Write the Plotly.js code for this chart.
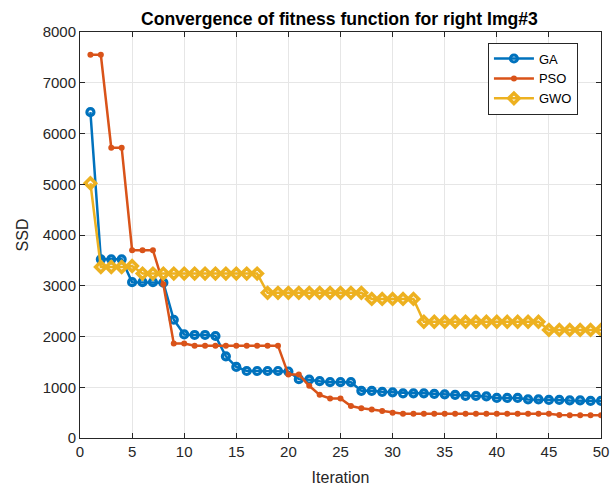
<!DOCTYPE html>
<html><head><meta charset="utf-8">
<script src="https://cdn.plot.ly/plotly-3.0.1.min.js"></script>
<style>html,body{margin:0;padding:0;background:#fff}#chart{width:615px;height:487px}</style>
</head><body><div id="chart"></div>
<script>
const iterations = Array.from({length: 50}, (_, i) => i + 1);
const gaValues = [6420,3520,3520,3520,3070,3070,3070,3060,2330,2040,2030,2030,2010,1610,1400,1320,1320,1320,1320,1310,
  1160,1150,1120,1100,1100,1100,930,930,910,900,880,880,880,870,860,850,830,830,820,790,790,790,760,760,750,750,740,740,730,730];
const psoValues = [7550,7550,5720,5720,3700,3700,3700,3030,1860,1860,1820,1820,1820,1820,1820,1820,1820,1820,1820,1250,
  1250,1030,850,780,780,630,585,560,530,500,480,480,480,480,480,480,480,480,480,480,480,480,480,480,480,455,450,450,450,450];
const gwoValues = [5020,3370,3370,3370,3390,3240,3240,3240,3240,3240,3240,3240,3240,3240,3240,3240,3240,2860,2860,2860,
  2860,2860,2860,2860,2860,2860,2860,2740,2740,2740,2740,2740,2290,2290,2290,2290,2290,2290,2290,2290,2290,2290,2290,2290,
  2130,2130,2130,2130,2130,2130];
const seriesNames = ['GA','PSO','GWO'];
const xTicks = [0,5,10,15,20,25,30,35,40,45,50];
const yTicks = [0,1000,2000,3000,4000,5000,6000,7000,8000];

const font = 'Liberation Sans, Arial, sans-serif';
const traces = [
  {x: iterations, y: gaValues, name: seriesNames[0], mode: 'lines+markers',
   line: {color: '#0072BD', width: 2.5},
   marker: {symbol: 'circle-open', size: 7, color: '#0072BD', line: {width: 3.2, color: '#0072BD'}}},
  {x: iterations, y: psoValues, name: seriesNames[1], mode: 'lines+markers',
   line: {color: '#D95319', width: 2.5},
   marker: {symbol: 'circle', size: 6, color: '#D95319'}},
  {x: iterations, y: gwoValues, name: seriesNames[2], mode: 'lines+markers',
   line: {color: '#EDB120', width: 2.5},
   marker: {symbol: 'diamond-open', size: 8, color: '#EDB120', line: {width: 3.5, color: '#EDB120'}}}
];
const axisCommon = {
  showline: true, mirror: 'ticks', linecolor: '#262626', linewidth: 1,
  ticks: 'inside', ticklen: 5, tickcolor: '#262626',
  showgrid: true, gridcolor: '#e6e6e6', gridwidth: 1, zeroline: false,
  tickfont: {family: font, size: 15, color: '#262626'}
};
const layout = {
  width: 615, height: 487,
  margin: {l: 80, r: 14, t: 32, b: 49},
  paper_bgcolor: '#fff', plot_bgcolor: '#fff',
  title: {text: '<b>Convergence of fitness function for right Img#3</b>', font: {family: font, size: 17.6, color: '#000'},
          x: 0.552, xanchor: 'center', y: 0.962, yanchor: 'middle'},
  xaxis: Object.assign({}, axisCommon, {range: [0, 50], tickvals: xTicks,
          title: {text: 'Iteration', font: {family: font, size: 16, color: '#262626'}, standoff: 12}}),
  yaxis: Object.assign({}, axisCommon, {range: [0, 8000], tickvals: yTicks,
          title: {text: 'SSD', font: {family: font, size: 16, color: '#262626'}, standoff: 10}}),
  legend: {x: 0.783, y: 0.974, xanchor: 'left', yanchor: 'top', bgcolor: '#fff', bordercolor: '#262626', borderwidth: 1,
           font: {family: font, size: 13, color: '#000'}, itemwidth: 40, tracegroupgap: 0},
  showlegend: true
};
Plotly.newPlot('chart', traces, layout, {displayModeBar: false, staticPlot: true});
</script></body></html>
